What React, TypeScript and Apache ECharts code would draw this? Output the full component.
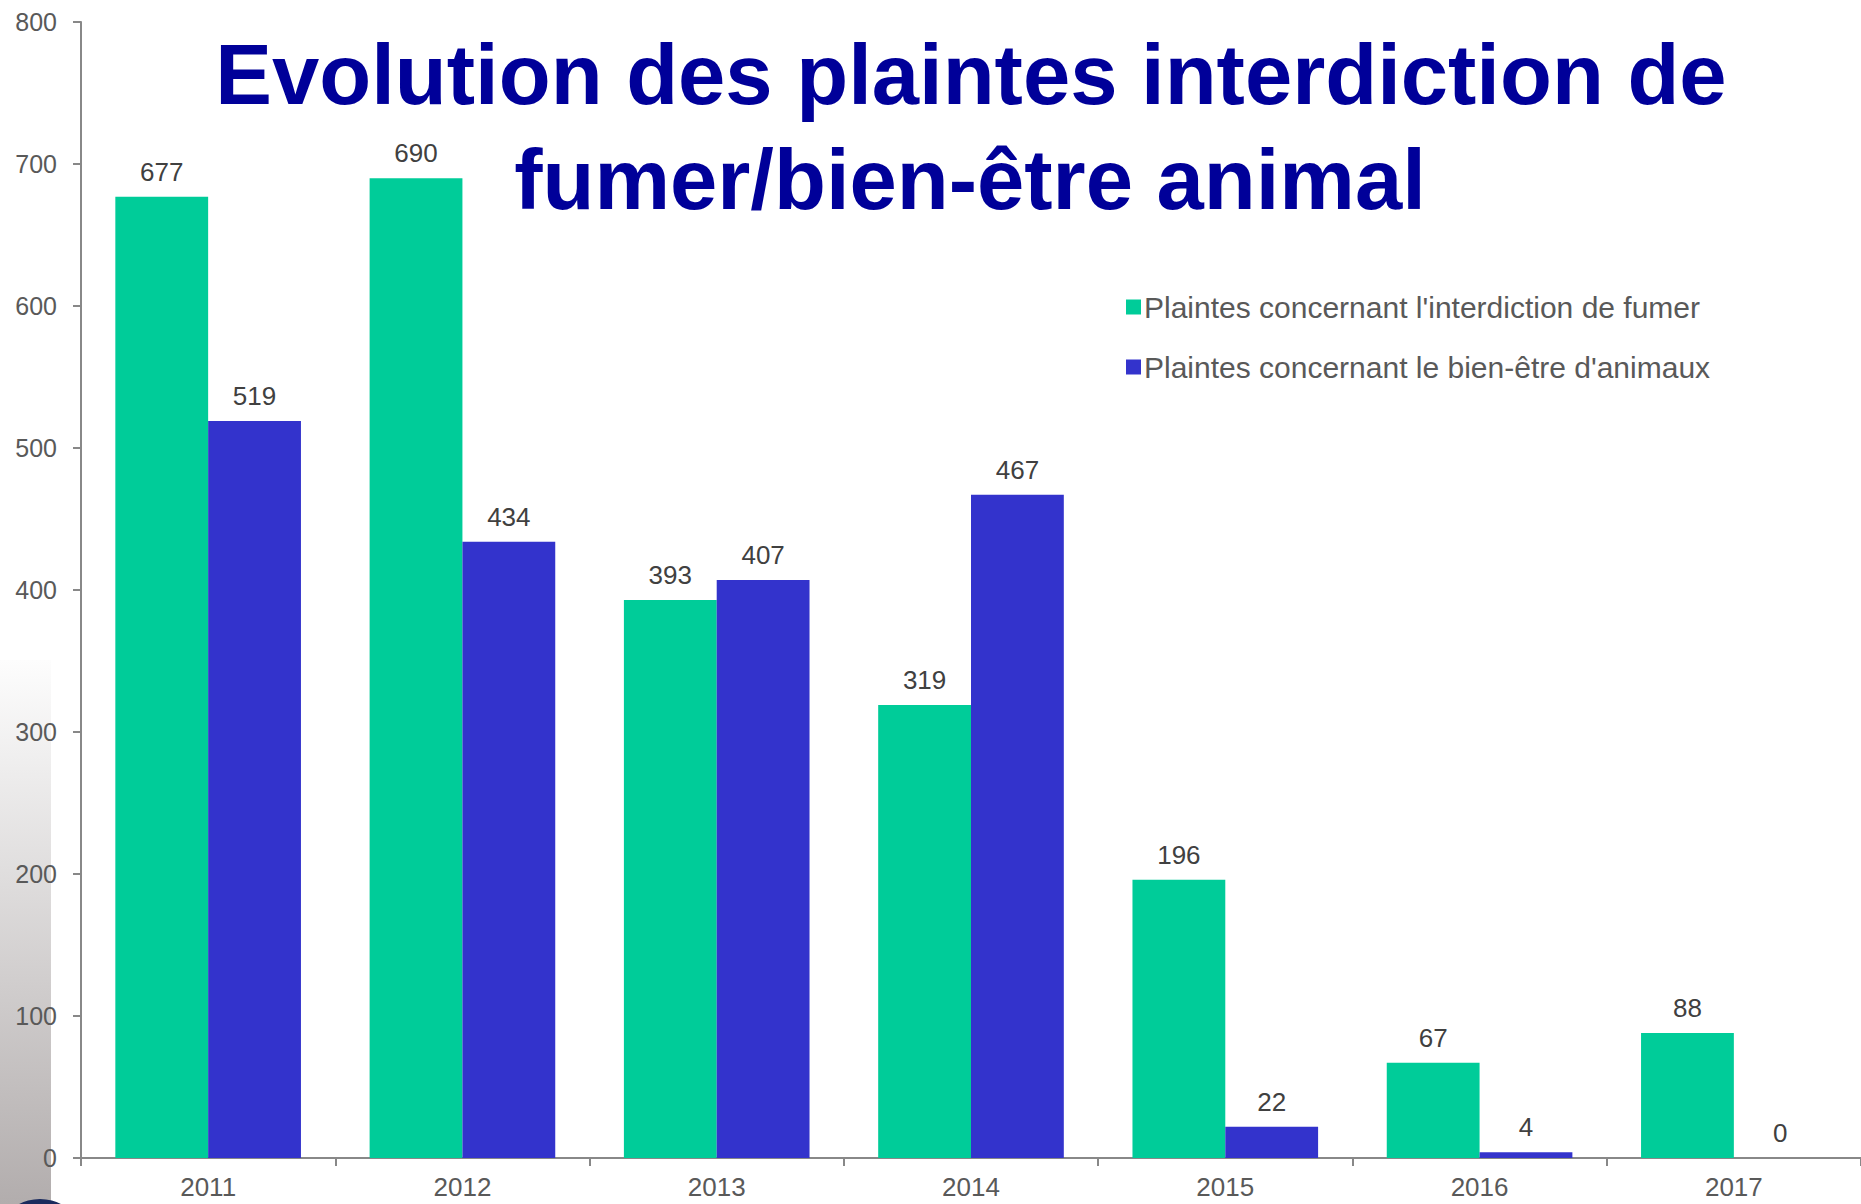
import React, { useEffect, useRef } from "react";
import * as echarts from "echarts";

const years = ["2011", "2012", "2013", "2014", "2015", "2016", "2017"];
const smokingComplaints = [677, 690, 393, 319, 196, 67, 88];
const animalComplaints = [519, 434, 407, 467, 22, 4, 0];
const seriesNames = [
  "Plaintes concernant l'interdiction de fumer",
  "Plaintes concernant le bien-être d'animaux",
];
const titleLines = ["Evolution des plaintes interdiction de", "fumer/bien-être animal"];

export default function App() {
  const ref = useRef<HTMLDivElement>(null);
  useEffect(() => {
    document.body.style.margin = "0";
    const chart = echarts.init(ref.current!, null, { renderer: "svg" });
    const font = "'Liberation Sans', Arial, sans-serif";
    const labelStyle = {
      show: true,
      position: "top" as const,
      distance: 12,
      fontSize: 26,
      color: "#404040",
      fontFamily: font,
    };
    const titleStyle = {
      fontSize: 85,
      fontWeight: "bold" as const,
      fontFamily: font,
      fill: "#000099",
      align: "center" as const,
      verticalAlign: "top" as const,
    };
    chart.setOption({
      animation: false,
      backgroundColor: "#ffffff",
      textStyle: { fontFamily: font },
      graphic: [
        {
          type: "rect",
          z: -10,
          shape: { x: 0, y: 660, width: 51, height: 544 },
          style: {
            fill: new echarts.graphic.LinearGradient(0, 0, 0, 1, [
              { offset: 0, color: "#fdfdfd" },
              { offset: 1, color: "#b2adad" },
            ]),
          },
        },
        {
          type: "circle",
          shape: { cx: 40, cy: 1245, r: 46 },
          style: { fill: "#1b2b5e" },
        },
        {
          type: "text",
          x: 971,
          y: 32,
          z: 100,
          style: { ...titleStyle, text: titleLines[0] },
        },
        {
          type: "text",
          x: 970,
          y: 137,
          z: 100,
          style: { ...titleStyle, text: titleLines[1] },
        },
      ],
      legend: {
        orient: "vertical",
        left: 1121,
        top: 287,
        itemWidth: 15,
        itemHeight: 15,
        itemGap: 30,
        icon: "rect",
        textStyle: { fontSize: 30, color: "#595959", fontFamily: font, padding: [0, 0, 0, -2] },
        data: seriesNames,
      },
      grid: { left: 81, right: 0, top: 22, bottom: 46, containLabel: false },
      xAxis: {
        type: "category",
        data: years,
        axisLine: { lineStyle: { color: "#888888", width: 2 } },
        axisTick: { show: true, length: 8, lineStyle: { color: "#888888", width: 2 } },
        axisLabel: { fontSize: 26, color: "#595959", margin: 16, fontFamily: font },
      },
      yAxis: {
        type: "value",
        min: 0,
        max: 800,
        interval: 100,
        axisLine: { show: true, lineStyle: { color: "#888888", width: 2 } },
        axisTick: { show: true, length: 8, lineStyle: { color: "#888888", width: 2 } },
        splitLine: { show: false },
        axisLabel: { fontSize: 25, color: "#595959", margin: 24, fontFamily: font },
      },
      series: [
        {
          name: seriesNames[0],
          type: "bar",
          data: smokingComplaints,
          itemStyle: { color: "#00CC99" },
          barGap: "0%",
          barCategoryGap: "27%",
          label: labelStyle,
        },
        {
          name: seriesNames[1],
          type: "bar",
          data: animalComplaints,
          itemStyle: { color: "#3333CC" },
          barGap: "0%",
          barCategoryGap: "27%",
          label: labelStyle,
        },
      ],
    });
    return () => chart.dispose();
  }, []);
  return <div ref={ref} style={{ width: 1861, height: 1204 }} />;
}
